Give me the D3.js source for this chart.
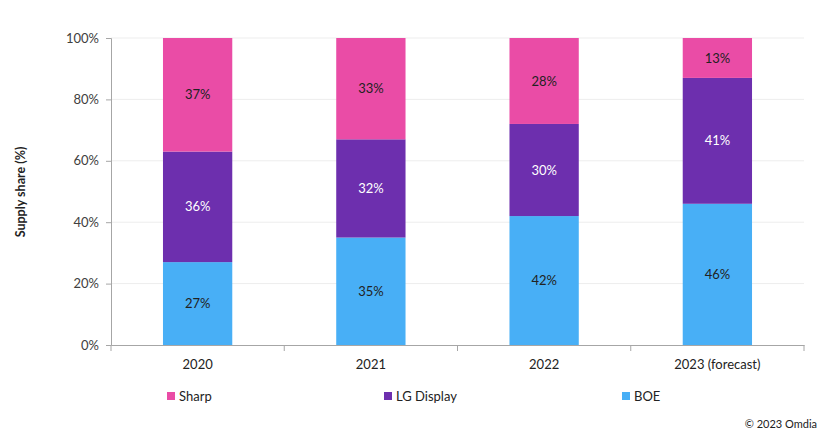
<!DOCTYPE html>
<html><head><meta charset="utf-8">
<script src="https://cdn.jsdelivr.net/npm/d3@7"></script>
<style>
body{margin:0;background:#fff;}
svg{display:block;font-family:Lato,"Open Sans",sans-serif;}
</style></head>
<body><svg id="chart" width="838" height="441"></svg>
<script>
const categories = ["2020","2021","2022","2023 (forecast)"];
const boe = [27,35,42,46];
const lgDisplay = [36,32,30,41];
const sharp = [37,33,28,13];
const yTicks = [0,20,40,60,80,100];
const seriesNames = ["BOE","LG Display","Sharp"];
const legendOrder = ["Sharp","LG Display","BOE"];
const colors = {"BOE":"#48aff6","LG Display":"#6d2fae","Sharp":"#ea4ca6"};
const labelColors = {"BOE":"#222","LG Display":"#fff","Sharp":"#222"};

const svg = d3.select("#chart");
const m = {left:111, right:804, top:38, bottom:345};
const x = d3.scaleBand().domain(categories).range([m.left,m.right]).paddingInner(0.6).paddingOuter(0.3);
const y = d3.scaleLinear().domain([0,100]).range([m.bottom,m.top]);

const rows = categories.map((c,i)=>({cat:c, "BOE":boe[i], "LG Display":lgDisplay[i], "Sharp":sharp[i]}));
const stack = d3.stack().keys(seriesNames)(rows);

// gridlines
svg.append("g").selectAll("line").data(yTicks.filter(t=>t>0)).join("line")
  .attr("x1",m.left).attr("x2",m.right).attr("y1",d=>y(d)).attr("y2",d=>y(d))
  .attr("stroke","#ededed").attr("stroke-width",1);

// bars
const layers = svg.append("g").selectAll("g").data(stack).join("g").attr("fill",d=>colors[d.key]);
layers.selectAll("rect").data(d=>d.map(v=>({v,key:d.key}))).join("rect")
  .attr("x",d=>x(d.v.data.cat)).attr("width",x.bandwidth())
  .attr("y",d=>y(d.v[1])).attr("height",d=>y(d.v[0])-y(d.v[1]));

// bar labels
layers.selectAll("text").data(d=>d.map(v=>({v,key:d.key}))).join("text")
  .attr("x",d=>x(d.v.data.cat)+x.bandwidth()/2)
  .attr("y",d=>(y(d.v[0])+y(d.v[1]))/2)
  .attr("dy","0.35em").attr("text-anchor","middle")
  .attr("font-size",13).attr("fill",d=>labelColors[d.key])
  .text(d=>Math.round(d.v[1]-d.v[0])+"%");

// y axis
const yAxis = svg.append("g").attr("transform",`translate(${m.left},0)`)
  .call(d3.axisLeft(y).tickValues(yTicks).tickFormat(d=>d+"%").tickSize(5).tickPadding(7));
yAxis.select(".domain").attr("stroke","#a6a6a6");
yAxis.selectAll(".tick line").attr("stroke","#a6a6a6");
yAxis.selectAll("text").attr("font-size",13).attr("fill","#404040").attr("font-family","Lato,sans-serif");

// x axis with boundary ticks
const xAxisG = svg.append("g").attr("transform",`translate(0,${m.bottom})`)
  .call(d3.axisBottom(x).tickSize(0).tickPadding(15));
xAxisG.select(".domain").attr("stroke","#a6a6a6");
xAxisG.selectAll("text").attr("font-size",13).attr("fill","#222").attr("font-family","Lato,sans-serif");
const bounds = categories.map((c,i)=>m.left + i*x.step());
bounds.push(m.right);
svg.append("g").selectAll("line").data(bounds).join("line")
  .attr("x1",d=>d).attr("x2",d=>d).attr("y1",m.bottom).attr("y2",m.bottom+6)
  .attr("stroke","#a6a6a6");

// y title
svg.append("text").attr("transform","translate(25,192) rotate(-90)")
  .attr("text-anchor","middle").attr("font-size",12.5).attr("font-weight","bold").attr("fill","#222")
  .text("Supply share (%)");

// legend
const legendX = [167,384,622];
const lg = svg.append("g").selectAll("g").data(legendOrder).join("g")
  .attr("transform",(d,i)=>`translate(${legendX[i]},396)`);
lg.append("rect").attr("x",0).attr("y",-4).attr("width",8).attr("height",8).attr("fill",d=>colors[d]);
lg.append("text").attr("x",12).attr("dy","0.35em").attr("font-size",13).attr("fill","#222").text(d=>d);

// copyright
svg.append("text").attr("x",817).attr("y",428).attr("text-anchor","end")
  .attr("font-size",11).attr("fill","#222").text("© 2023 Omdia");
</script></body></html>
